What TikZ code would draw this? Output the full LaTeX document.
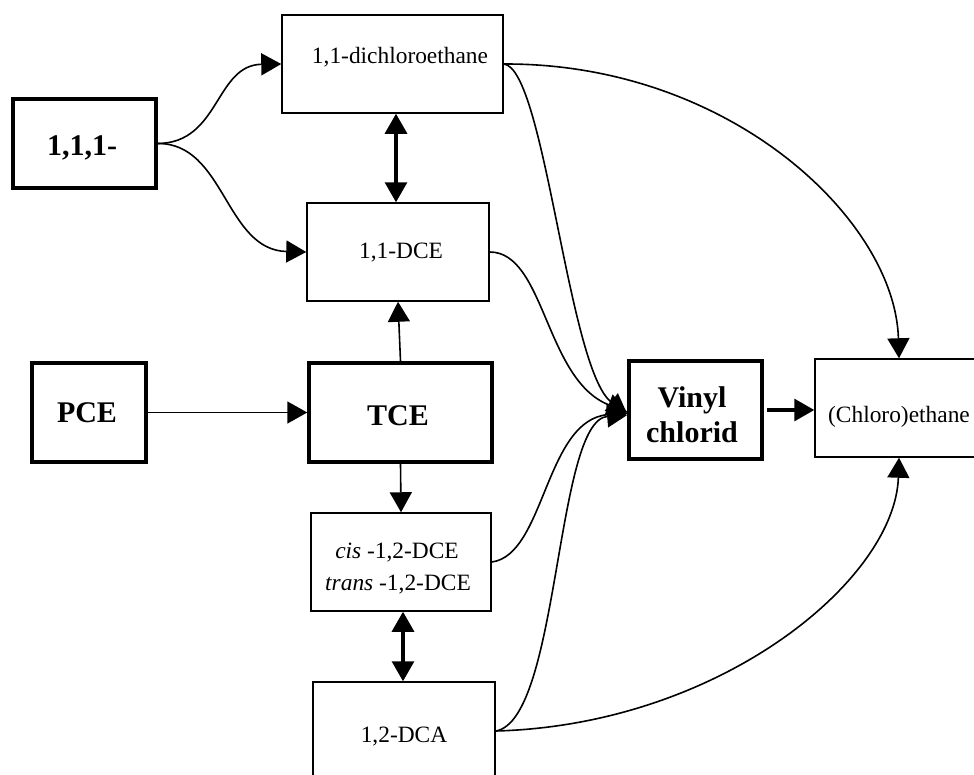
\documentclass[tikz,border=0pt]{standalone}
\usepackage{fontspec}
\setmainfont{Liberation Serif}
\usetikzlibrary{arrows.meta}
\begin{document}
\begin{tikzpicture}[x=1pt,y=-1pt,
  thinbox/.style={draw, line width=1.5pt, inner sep=0pt},
  thickbox/.style={draw, line width=3.5pt, inner sep=0pt},
  lbl/.style={font=\fontsize{23.4}{28}\selectfont, inner sep=0pt, anchor=base},
  blbl/.style={font=\fontsize{30}{35}\selectfont\bfseries, inner sep=0pt, anchor=base},
  arr/.style={line width=1.6pt, -{Triangle[length=20pt,width=22pt]}},
  thickarr/.style={line width=3.2pt, -{Triangle[length=20pt,width=22pt]}},
  dblarr/.style={line width=3.2pt, {Triangle[length=20pt,width=22pt]}-{Triangle[length=20pt,width=22pt]}}
]
\useasboundingbox (0,0) rectangle (974,774);
\clip (0,0) rectangle (974,774);

% boxes
\node[thinbox, minimum width=221pt, minimum height=98pt] (dich) at (392.5,64) {};
\node[thickbox, minimum width=143pt, minimum height=89pt] (t111) at (84.5,143.5) {};
\node[thinbox, minimum width=182pt, minimum height=98pt] (dce11) at (398,252) {};
\node[thickbox, minimum width=114pt, minimum height=99pt] (pce) at (89,412.5) {};
\node[thickbox, minimum width=183pt, minimum height=99pt] (tce) at (400.5,412.5) {};
\node[thinbox, minimum width=180pt, minimum height=98pt] (cis) at (401,562) {};
\node[thinbox, minimum width=182pt, minimum height=98pt] (dca) at (404,731) {};
\node[thickbox, minimum width=133pt, minimum height=98pt] (vinyl) at (695.5,410) {};
\node[thinbox, minimum width=168pt, minimum height=98pt] (chloro) at (899,408) {};

% texts
\node[lbl] (tdich) at (400,63) {1,1-dichloroethane};
\node[blbl] (t111t) at (82,155) {1,1,1-};
\node[lbl] (tdce11) at (401,258) {1,1-DCE};
\node[blbl] (tpce) at (87,422) {PCE};
\node[blbl] (ttce) at (398,425) {TCE};
\node[lbl] (tcis) at (397,558) {\textit{cis} -1,2-DCE};
\node[lbl] (ttrans) at (398,590) {\textit{trans} -1,2-DCE};
\node[lbl] (tdca) at (404,742) {1,2-DCA};
\node[blbl] (tvinyl) at (692,407) {Vinyl};
\node[blbl] (tchlorid) at (692,442) {chlorid};
\node[lbl] (tchloro) at (899,422) {(Chloro)ethane};

% straight connectors
\draw[arr] (pce.east) -- (tce.west);
\draw[arr] (tce.north) -- (dce11.south);
\draw[arr] (tce.south) -- (cis.north);
\draw[dblarr] (dich.south -| 396,0) -- (dce11.north -| 396,0);
\draw[dblarr] (cis.south -| 403,0) -- (dca.north -| 403,0);
\draw[thickarr] ([xshift=3pt]vinyl.east) -- (vinyl.east -| chloro.west);

% curved connectors
\draw[arr] (t111.east) .. controls (220,143) and (215,65) .. (dich.west);
\draw[arr] (t111.east) .. controls (225,143) and (225,250) .. (dce11.west);
\draw[arr] (dich.east) .. controls (730,63) and (895,220) .. (chloro.north);
\draw[arr] (dich.east) .. controls (545,68) and (568,370) .. ([yshift=-4pt]vinyl.west);
\draw[arr] (dce11.east) .. controls (545,252) and (545,380) .. ([yshift=-2pt]vinyl.west);
\draw[arr] (cis.east) .. controls (545,555) and (545,420) .. ([yshift=-3pt]vinyl.west);
\draw[arr] (dca.east) .. controls (560,720) and (555,420) .. ([yshift=-5pt]vinyl.west);
\draw[arr] (dca.east) .. controls (720,725) and (895,580) .. (chloro.south);
\end{tikzpicture}
\end{document}
